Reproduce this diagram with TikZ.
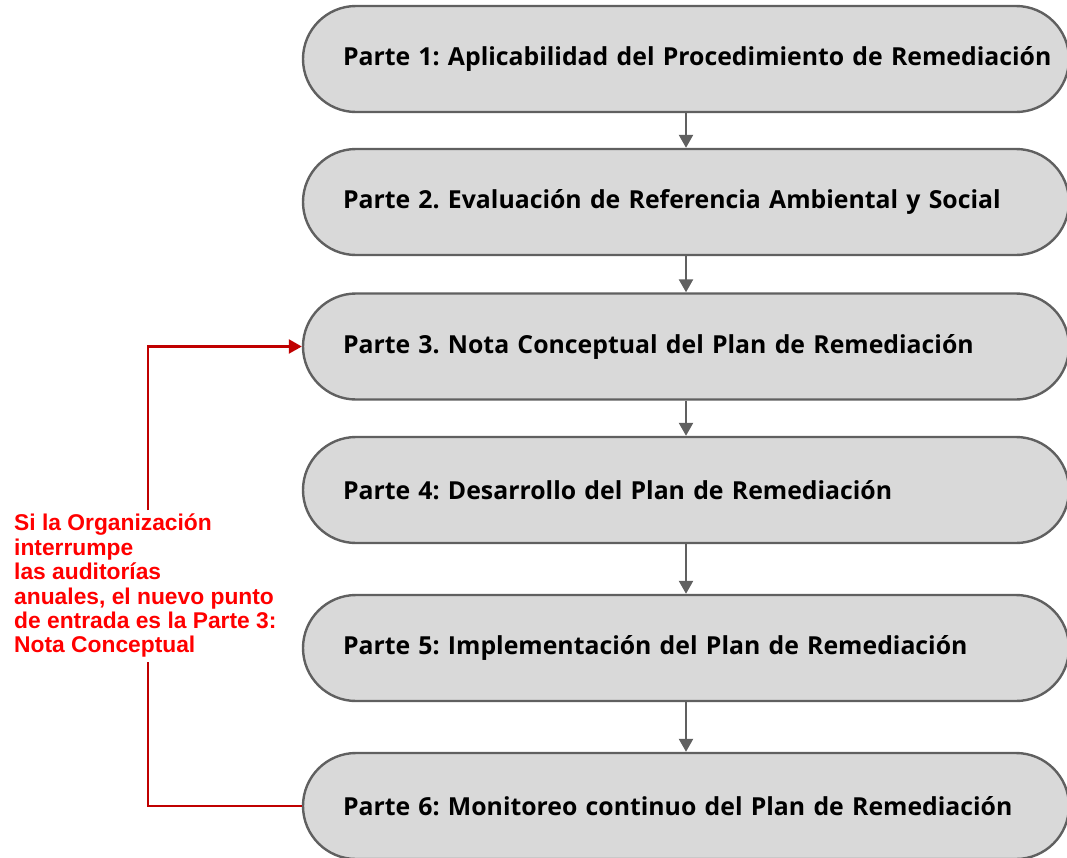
\documentclass[tikz,border=0pt]{standalone}
\usepackage{fontspec}
\setmainfont{Open Sans}
\newfontfamily\notefont{Liberation Sans}
\usepackage{tikz}
\usetikzlibrary{arrows.meta}
\frenchspacing

\definecolor{boxfill}{HTML}{D9D9D9}
\definecolor{boxline}{HTML}{606060}
\definecolor{backline}{HTML}{C00000}
\definecolor{notered}{HTML}{FF0000}

\tikzset{
	parte/.style={draw=boxline,fill=boxfill,line width=2.4pt,rounded corners=53pt,minimum height=106pt,text width=686pt,inner xsep=40pt,align=left,font=\bfseries\fontsize{24.8}{28}\selectfont,
		execute at begin node=\hbox\bgroup,execute at end node=\egroup},
	flow/.style={draw=boxline,line width=2.4pt,-{Triangle[width=14pt,length=13pt]}},
	back/.style={draw=backline,line width=2.4pt},
	note/.style={inner sep=0pt,align=left,text=notered,font=\notefont\bfseries\fontsize{22.8}{24.4}\selectfont}
}

\begin{document}
\begin{tikzpicture}[x=1pt,y=-1pt]
		\useasboundingbox (0,0) rectangle (1067,857);
		\node[parte] (b1) at (686,59) {Parte 1: Aplicabilidad del Procedimiento de Remediación};
		\node[parte] (b2) at (686,202) {Parte 2. Evaluación de Referencia Ambiental y Social};
		\node[parte] (b3) at (686,346.5) {Parte 3. Nota Conceptual del Plan de Remediación};
		\node[parte] (b4) at (686,490) {Parte 4: Desarrollo del Plan de Remediación};
		\node[parte] (b5) at (686,648) {Parte 5: Implementación del Plan de Remediación};
		\node[parte] (b6) at (686,806) {Parte 6: Monitoreo continuo del Plan de Remediación};
		\foreach \a/\b in {b1/b2,b2/b3,b3/b4,b4/b5,b5/b6} {
			\draw[flow] (\a) -- (\b);
		}
		% loop back to Parte 3
		\node[note,anchor=north west] (note) at (14,514) {Si la Organización\\interrumpe\\las auditorías\\anuales, el nuevo punto\\de entrada es la Parte 3:\\Nota Conceptual};
		\coordinate (hi) at (148,510);
		\coordinate (lo) at (148,662);
		\draw[back,-{Triangle[width=14pt,length=13pt]}] (hi) |- (b3.west);
		\draw[back] (b6.west) -| (lo);
	\end{tikzpicture}
\end{document}
